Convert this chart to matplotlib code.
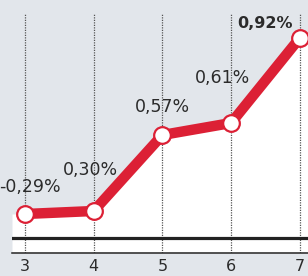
import matplotlib.pyplot as plt

# Данные
months = [3, 4, 5, 6, 7]
level = [0.24, 0.27, 1.03, 1.15, 2.00]
labels = ['-0,29%', '0,30%', '0,57%', '0,61%', '0,92%']
# смещения подписей в пикселях
label_dx = [5, -3, 0, -9, -35]
label_dy = [27, 41, 28, 45, 15]

bg = '#e2e6eb'
red = '#dc2035'
txt = '#2b2b2b'

fig = plt.figure(figsize=(3.08, 2.76), dpi=100, facecolor=bg)
ax = fig.add_axes([12 / 308, 23 / 276, 296 / 308, 240 / 276])
ax.set_facecolor(bg)

x0, x1 = 2.81, 7.12
ax.set_xlim(x0, x1)
ax.set_ylim(-0.15, 2.25)

# Белая заливка под линией
fx = [x0] + months + [x1]
fy = [level[0]] + level + [level[-1]]
ax.fill_between(fx, fy, -0.15, color='white', zorder=1, lw=0)

# Вертикальная сетка
for m in months:
    ax.axvline(m, color='#555555', lw=0.9, ls=(0, (1, 1)), zorder=1.5)

ax.axhline(0, color='#222222', lw=2.3, zorder=2)

ax.plot(months, level, color=red, lw=7.5, solid_capstyle='round', zorder=3)
ax.plot(months, level, 'o', ms=12, mfc='white', mec=red, mew=1.6, zorder=4)

for i in range(len(months)):
    last = i == len(months) - 1
    ax.annotate(labels[i], (months[i], level[i]),
                xytext=(label_dx[i], label_dy[i]), textcoords='offset pixels',
                ha='center', va='center', fontsize=11.5 if last else 12.5,
                color=txt, fontweight='bold' if last else 'normal',
                annotation_clip=False, zorder=5)

for s in ['top', 'left', 'right']:
    ax.spines[s].set_visible(False)
ax.spines['bottom'].set_color('#222222')
ax.spines['bottom'].set_linewidth(1.1)

ax.set_xticks(months)
ax.set_xticklabels([str(m) for m in months], fontsize=11.5, color=txt)
ax.tick_params(axis='x', length=0, pad=4)
ax.set_yticks([])

fig.savefig('out.png', dpi=100, facecolor=bg)
